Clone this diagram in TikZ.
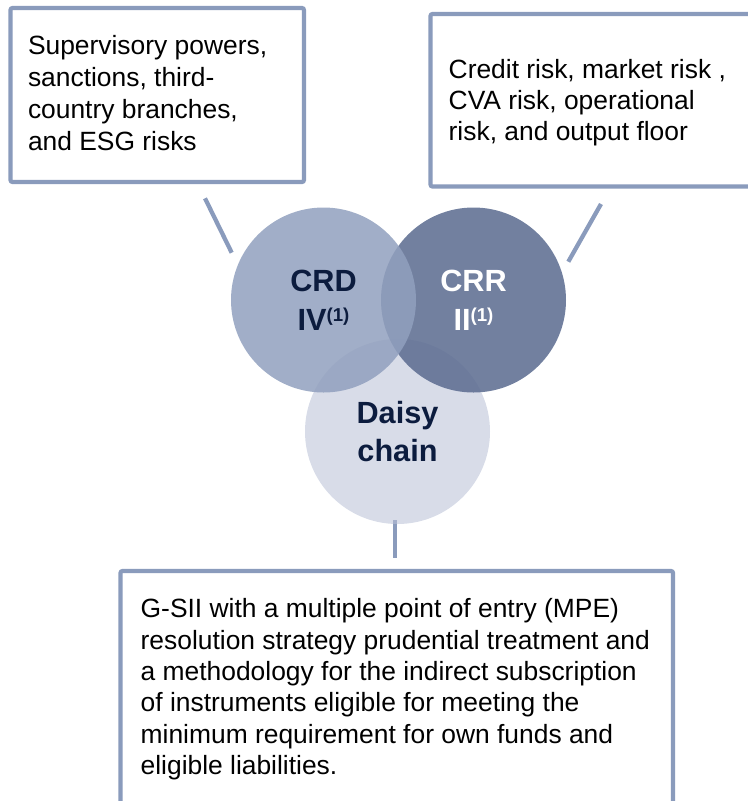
\documentclass[tikz,border=0pt]{standalone}
\usepackage{fontspec}
\setmainfont{Liberation Sans}
\definecolor{edgeblue}{HTML}{8A9BBC}
\definecolor{crdfill}{HTML}{91A0BE}
\definecolor{crrfill}{HTML}{5E6E92}
\definecolor{daisyfill}{HTML}{B9C0D6}
\definecolor{navy}{HTML}{0C1C3E}
\newcommand{\refone}{\raisebox{6.5pt}{\fontsize{14}{14}\selectfont(1)}}
\begin{document}
\begin{tikzpicture}[x=0.75pt,y=-0.75pt,
  frame/.style={draw=edgeblue, line width=3.1pt, fill=white, rounded corners=1.5pt, inner sep=0pt, outer sep=0pt, anchor=north west},
  link/.style={draw=edgeblue, line width=3.2pt},
  venn/.style={circle, minimum size=138.75pt, inner sep=0pt, align=center, text opacity=1, font=\fontsize{23}{29}\selectfont\bfseries},
  boxtext/.style={anchor=north west, inner sep=0pt, outer sep=0pt, align=left, text=black}
]
\useasboundingbox (0,0) rectangle (748,801);
\clip (0,0) rectangle (748,801);

% boxes
\node[frame, minimum width=220.1pt, minimum height=130.5pt] (boxL) at (10.5,8) {};
\node[frame, minimum width=254.6pt, minimum height=129.4pt] (boxR) at (430.5,14) {};
\node[frame, minimum width=414.4pt, minimum height=194pt] (boxB) at (120.5,571) {};

% connectors
\coordinate (lA) at (205,198.3);
\coordinate (lB) at (231.7,252.7);
\coordinate (rA) at (601,204);
\coordinate (rB) at (568.3,261.7);
\coordinate (bA) at (395,520);
\coordinate (bB) at (395,558);
\draw[link] (lA) -- (lB);
\draw[link] (rA) -- (rB);
\draw[link] (bA) -- (bB);

% circles
\node[venn, fill=daisyfill, fill opacity=0.56, text=navy] (daisy) at (397.5,431.5) {Daisy\\chain};
\node[venn, fill=crrfill, fill opacity=0.88, text=white] (crr) at (473.5,300) {CRR\\II\refone};
\node[venn, fill=crdfill, fill opacity=0.85, text=navy] (crd) at (323.5,300) {CRD\\IV\refone};

% texts
\node[boxtext, font=\fontsize{19.8}{24}\selectfont] (txtL) at (28,35)
  {Supervisory powers,\\sanctions, third-\\country branches,\\and ESG risks};
\node[boxtext, font=\fontsize{19.8}{23}\selectfont] (txtR) at (448.7,59.8)
  {Credit risk, market risk ,\\CVA risk, operational\\risk, and output floor};
\node[boxtext, font=\fontsize{19.8}{23.5}\selectfont] (txtB) at (140.7,598.6)
  {G-SII with a multiple point of entry (MPE)\\resolution strategy prudential treatment and\\a methodology for the indirect subscription\\of instruments eligible for meeting the\\minimum requirement for own funds and\\eligible liabilities.};
\end{tikzpicture}
\end{document}
